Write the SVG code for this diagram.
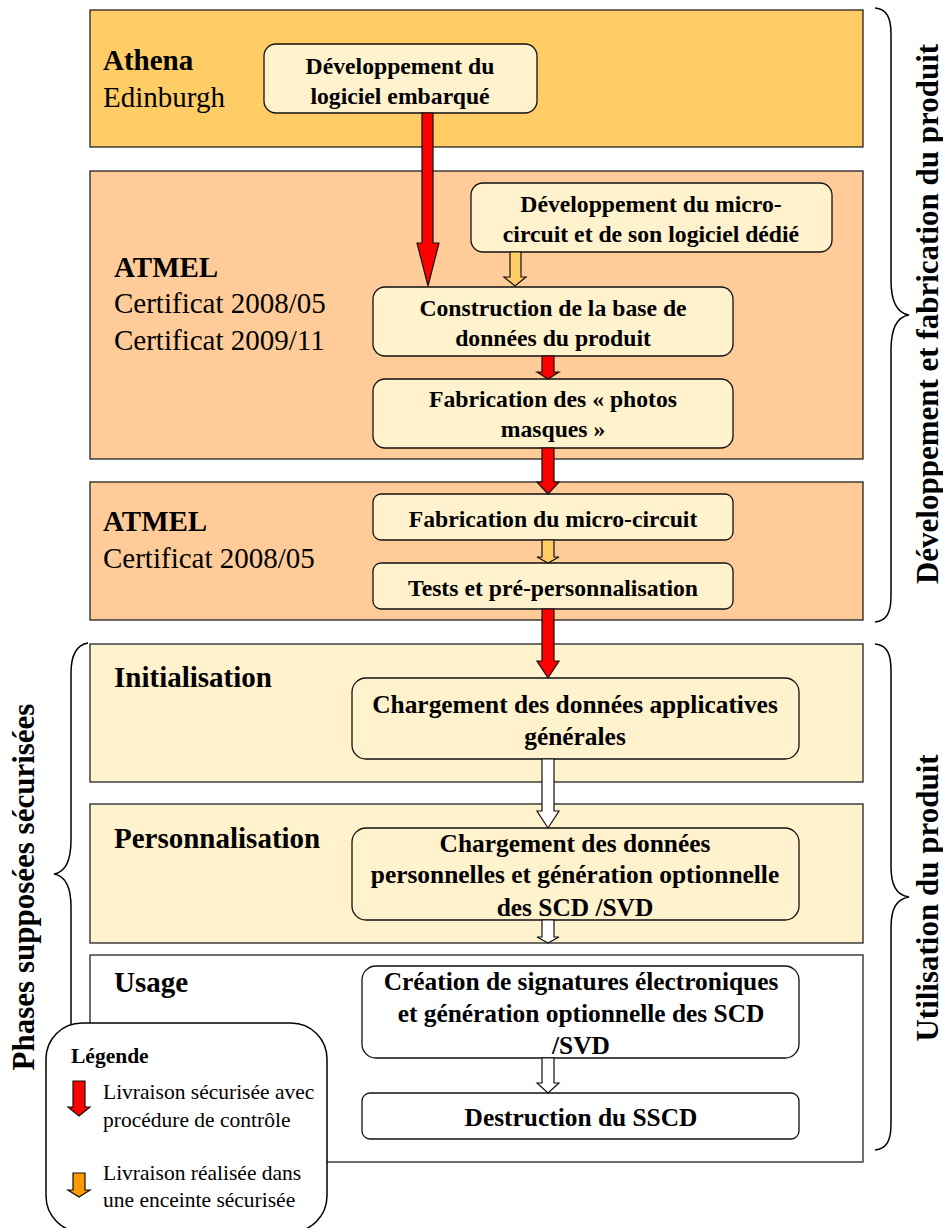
<svg xmlns="http://www.w3.org/2000/svg" width="943" height="1228" viewBox="0 0 943 1228">
<style>
text{font-family:"Liberation Serif","Times New Roman",serif;fill:#000}
.b{font-weight:bold}
.m{text-anchor:middle}
.band{stroke:#222;stroke-width:1.3}
.box{fill:#FFF2CC;stroke:#111;stroke-width:1.3}
.wbox{fill:#fff;stroke:#111;stroke-width:1.3}
.brace{fill:none;stroke:#000;stroke-width:1.5}
.arr{stroke:#111;stroke-width:1.2;stroke-linejoin:miter}
.t23{font-size:23.7px}.t25{font-size:25.4px}.t29{font-size:29px}.v{font-size:31px;font-weight:bold}
.l{font-size:21.5px}
</style>
<rect width="943" height="1228" fill="#fff"/>
<g id="band-athena"><rect class="band" x="90" y="10" width="773" height="137" fill="#FFCC66"/><text class="t29 b" x="103" y="70">Athena</text><text class="t29" x="103" y="107">Edinburgh</text></g>
<g id="band-atmel1"><rect class="band" x="90" y="171" width="773" height="288" fill="#FFCC99"/><text class="t29 b" x="114" y="277">ATMEL</text><text class="t29" x="114" y="313">Certificat 2008/05</text><text class="t29" x="114" y="350">Certificat 2009/11</text></g>
<g id="band-atmel2"><rect class="band" x="90" y="482" width="773" height="138" fill="#FFCC99"/><text class="t29 b" x="103" y="531">ATMEL</text><text class="t29" x="103" y="568">Certificat 2008/05</text></g>
<g id="band-init"><rect class="band" x="90" y="644" width="773" height="138" fill="#FFF2CC"/><text class="t29 b" x="114" y="687">Initialisation</text></g>
<g id="band-perso"><rect class="band" x="90" y="804" width="773" height="139" fill="#FFF2CC"/><text class="t29 b" x="114" y="848">Personnalisation</text></g>
<g id="band-usage"><rect class="band" x="90" y="955" width="773" height="207" fill="#fff"/><text class="t29 b" x="114" y="992">Usage</text></g>
<g id="node-dev-logiciel"><rect class="box" x="264" y="44" width="273" height="69" rx="12"/><text class="t23 b m" x="400" y="74">Développement du</text><text class="t23 b m" x="400" y="104">logiciel embarqué</text></g>
<g id="node-dev-micro"><rect class="box" x="471" y="183" width="361" height="69" rx="12"/><text class="t23 b m" x="651" y="212">Développement du micro-</text><text class="t23 b m" x="651" y="242">circuit et de son logiciel dédié</text></g>
<g id="node-base"><rect class="box" x="373" y="287" width="360" height="69" rx="12"/><text class="t23 b m" x="553" y="316">Construction de la base de</text><text class="t23 b m" x="553" y="346">données du produit</text></g>
<g id="node-photos"><rect class="box" x="373" y="379" width="360" height="69" rx="12"/><text class="t23 b m" x="553" y="407">Fabrication des « photos</text><text class="t23 b m" x="553" y="437">masques »</text></g>
<g id="node-fab"><rect class="box" x="373" y="494" width="360" height="46" rx="8"/><text class="t23 b m" x="553" y="527">Fabrication du micro-circuit</text></g>
<g id="node-tests"><rect class="box" x="373" y="563" width="360" height="46" rx="8"/><text class="t23 b m" x="553" y="596">Tests et pré-personnalisation</text></g>
<g id="node-charge-app"><rect class="box" x="352" y="678" width="447" height="81" rx="14"/><text class="t25 b m" x="575" y="713">Chargement des données applicatives</text><text class="t25 b m" x="575" y="745">générales</text></g>
<g id="node-charge-perso"><rect class="box" x="352" y="828" width="447" height="92" rx="14"/><text class="t25 b m" x="575" y="852">Chargement des données</text><text class="t25 b m" x="575" y="883">personnelles et génération optionnelle</text><text class="t25 b m" x="575" y="916">des SCD /SVD</text></g>
<g id="node-signature"><rect class="wbox" x="362" y="966" width="437" height="92" rx="14"/><text class="t25 b m" x="581" y="990">Création de signatures électroniques</text><text class="t25 b m" x="581" y="1022">et génération optionnelle des SCD</text><text class="t25 b m" x="581" y="1054">/SVD</text></g>
<g id="node-destruction"><rect class="wbox" x="362" y="1093" width="437" height="46" rx="8"/><text class="t25 b m" x="581" y="1126">Destruction du SSCD</text></g>
<g id="connectors">
<path class="arr" fill="#f00" d="M422 113H433V243H439L428 286L417 243H422Z"/>
<path class="arr" fill="#FFCC66" d="M510 252H521V277H526L515 286L504 277H510Z"/>
<path class="arr" fill="#f00" d="M542 356H554V372H559L548 379L537 372H542Z"/>
<path class="arr" fill="#f00" d="M542 448H554V482H559L548 494L537 482H542Z"/>
<path class="arr" fill="#FFCC66" d="M542 540H554V557H559L548 563L537 557H542Z"/>
<path class="arr" fill="#f00" d="M542 609H554V661H559L548 678L537 661H542Z"/>
<path class="arr" fill="#fff" d="M542 759H554V811H559L548 828L537 811H542Z"/>
<path class="arr" fill="#fff" d="M542 920H554V937H559L548 943L537 937H542Z"/>
<path class="arr" fill="#fff" d="M542 1058H554V1083H559L548 1093L537 1083H542Z"/>
</g>
<g id="brace-dev"><path class="brace" d="M875 8C887 9 891 18 891 34V280C891 300 896 313 909 315C896 317 891 330 891 350V596C891 612 887 621 875 622"/></g>
<g id="brace-usage"><path class="brace" d="M875 644C887 645 891 654 891 670V866C891 885 896 895 909 897C896 899 891 909 891 928V1124C891 1140 887 1149 875 1150"/></g>
<g id="brace-phases"><path class="brace" d="M88 643C76 645 71 656 71 673V840C71 860 66 872 54 874C66 876 71 888 71 907V1030"/></g>
<g id="legend"><rect x="46" y="1023" width="281" height="209" rx="36" fill="#fff" stroke="#000" stroke-width="1.5"/>
<text class="l b" x="71" y="1063">Légende</text>
<path class="arr" fill="#f00" d="M73 1081H85V1107H90L79 1116L68 1107H73Z"/>
<path class="arr" fill="#FF9900" d="M73 1173H85V1190H90L79 1197L68 1190H73Z"/>
<text class="l" x="103" y="1099">Livraison sécurisée avec</text><text class="l" x="103" y="1127">procédure de contrôle</text>
<text class="l" x="103" y="1180">Livraison réalisée dans</text><text class="l" x="103" y="1207">une enceinte sécurisée</text></g>
<g id="side-labels">
<text class="v m" transform="translate(938 314) rotate(-90)">Développement et fabrication du produit</text>
<text class="v m" transform="translate(938 898) rotate(-90)">Utilisation du produit</text>
<text class="v m" transform="translate(34 887) rotate(-90)">Phases supposées sécurisées</text>
</g>
</svg>
